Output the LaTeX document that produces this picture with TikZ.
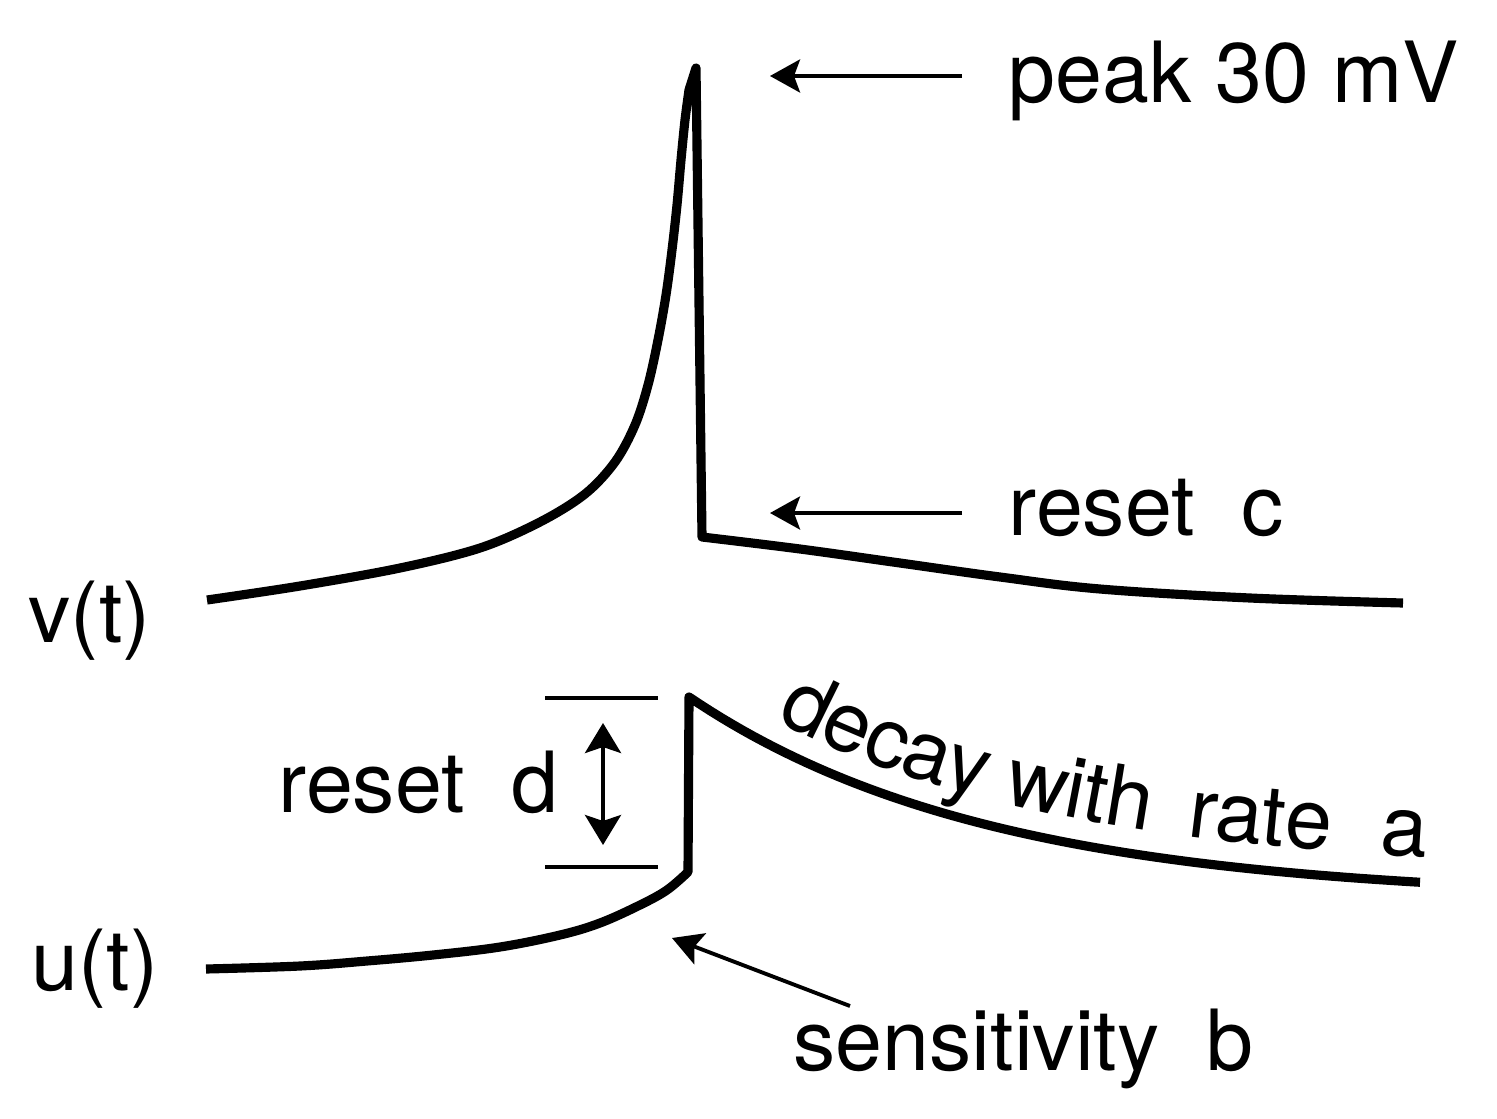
\documentclass[tikz,border=0pt]{standalone}
\usepackage{fontspec}
\setmainfont{TeX Gyre Heros}
\usetikzlibrary{arrows.meta,decorations.text}
\newcommand{\lblfont}{\fontsize{24}{28}\selectfont}
\begin{document}
\begin{tikzpicture}[x=0.01cm,y=-0.01cm,
  trace/.style={line width=2.6pt, line join=round, line cap=butt},
  pointer/.style={line width=1.1pt, -{Stealth[length=0.3cm,width=0.33cm,inset=0.06cm]}},
  twoway/.style={line width=1.1pt, {Stealth[length=0.3cm,width=0.36cm,inset=0.06cm]}-{Stealth[length=0.3cm,width=0.36cm,inset=0.06cm]}},
  bar/.style={line width=1pt},
  lbl/.style={font=\lblfont, inner sep=0pt, anchor=base west},
  curvetext/.style={decorate, decoration={text along path, raise=0.25cm, text={|\lblfont|#1}}}]
\useasboundingbox (0,0) rectangle (1497,1118);

% labels
\node[lbl] (peak) at (1008,102) {peak 30 mV};
\node[lbl] (resetc) at (1008,535) {reset\ \ c};
\node[lbl] (vt) at (28,642) {v(t)};
\node[lbl] (ut) at (31,990) {u(t)};
\node[lbl] (resetd) at (278,812) {reset\ \ d};
\node[lbl] (sens) at (793,1070) {sensitivity\ \ b};

% arrow end points
\coordinate (peaktip) at (770,76);
\coordinate (peaktail) at (962,76);
\coordinate (ctip) at (770,513);
\coordinate (ctail) at (962,513);
\coordinate (btip) at (672,938);
\coordinate (btail) at (850,1006);
\coordinate (dtop) at (603,723);
\coordinate (dbot) at (603,845);
\coordinate (bartopL) at (545,698);
\coordinate (bartopR) at (658,698);
\coordinate (barbotL) at (545,867);
\coordinate (barbotR) at (658,867);

\draw[pointer] (peaktail) -- (peaktip);
\draw[pointer] (ctail) -- (ctip);
\draw[pointer] (btail) -- (btip);
\draw[twoway] (dtop) -- (dbot);
\draw[bar] (bartopL) -- (bartopR);
\draw[bar] (barbotL) -- (barbotR);

% v(t) trace
\draw[trace] plot[smooth, tension=0.55] coordinates {(207,600) (300,586) (400,568) (480,548) (540,522) (585,494) (615,462) (635,425) (648,385) (658,340) (666,295) (672,250) (677,205) (681,160) (685,120) (689,90)}
  -- (696,68) -- (702,537)
  -- plot[smooth, tension=0.6] coordinates {(702,537) (800,549) (900,563) (1000,577) (1100,589) (1250,598) (1403,603)};

% u(t) trace
\draw[trace] plot[smooth, tension=0.6] coordinates {(206,969) (300,966) (367,961) (433,955) (500,947) (560,935) (600,923) (640,905) (667,890) (688,872)}
  -- (689,697)
  -- plot[domain=689:1420, samples=70] (\x, {900-203*exp(-(\x-689)/300)});

% curved label
\path[curvetext={decay}] plot[domain=765:1440, samples=90] (\x, {900-203*exp(-(\x-689)/300)});
\path[curvetext={with}] plot[domain=997:1440, samples=60] (\x, {900-203*exp(-(\x-689)/300)});
\path[curvetext={rate}] plot[domain=1183:1440, samples=40] (\x, {900-203*exp(-(\x-689)/300)});
\path[curvetext={a}] plot[domain=1378:1440, samples=20] (\x, {900-203*exp(-(\x-689)/300)});
\end{tikzpicture}
\end{document}
